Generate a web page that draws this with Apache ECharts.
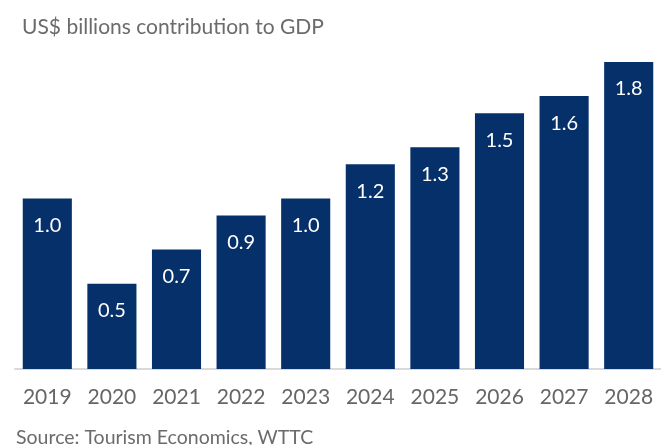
<!DOCTYPE html>
<html>
<head>
<meta charset="utf-8">
<script src="https://cdn.jsdelivr.net/npm/echarts@6/dist/echarts.min.js"></script>
<style>
  html, body { margin: 0; padding: 0; background: #ffffff; }
  #chart { width: 661px; height: 445px; }
</style>
</head>
<body>
<div id="chart"></div>
<script>
// Travel & tourism contribution to GDP, US$ billions
const years = ['2019', '2020', '2021', '2022', '2023', '2024', '2025', '2026', '2027', '2028'];
const gdpContribution = [1.0, 0.5, 0.7, 0.9, 1.0, 1.2, 1.3, 1.5, 1.6, 1.8];

const titleText = 'US$ billions contribution to GDP';
const sourceText = 'Source: Tourism Economics, WTTC';

const chart = echarts.init(document.getElementById('chart'), null, { renderer: 'canvas' });

chart.setOption({
  animation: false,
  backgroundColor: '#ffffff',
  textStyle: { fontFamily: 'Lato' },
  title: [
    {
      text: titleText,
      left: 17,
      top: 12,
      textStyle: { fontFamily: 'Lato', fontSize: 21, fontWeight: 'normal', color: '#6b6b6b' }
    },
    {
      text: sourceText,
      left: 11,
      top: 423,
      textStyle: { fontFamily: 'Lato', fontSize: 19.5, fontWeight: 'normal', color: '#6b6b6b' }
    }
  ],
  grid: { left: 15, top: 62, width: 653, height: 307 },
  xAxis: {
    type: 'category',
    data: years,
    axisLine: { show: true, lineStyle: { color: '#d9d9d9', width: 2 } },
    axisTick: { show: false },
    axisLabel: { fontFamily: 'Lato', fontSize: 21, color: '#666666', margin: 18 }
  },
  yAxis: {
    type: 'value',
    min: 0,
    max: 1.8,
    show: false,
    splitLine: { show: false }
  },
  series: [
    {
      type: 'bar',
      data: gdpContribution,
      barCategoryGap: '24%',
      itemStyle: { color: '#05306a' },
      label: {
        show: true,
        position: 'insideTop',
        distance: 17,
        color: '#ffffff',
        fontFamily: 'Lato',
        fontSize: 20,
        formatter: (p) => p.value.toFixed(1)
      }
    }
  ]
});
</script>
</body>
</html>
